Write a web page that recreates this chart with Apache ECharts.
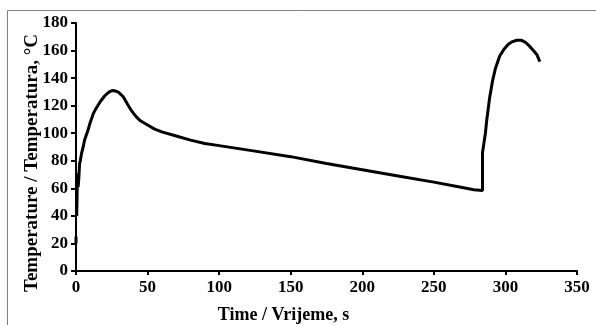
<!DOCTYPE html>
<html>
<head>
<meta charset="utf-8">
<script src="https://cdn.jsdelivr.net/npm/echarts@6/dist/echarts.min.js"></script>
<style>html,body{margin:0;padding:0;background:#fff}#c{width:596px;height:325px}</style>
</head>
<body>
<div id="c"></div>
<script>
const timeS = [0, 0, null, 0.5, 1, 1.5, 2, 2.5, 3, 4, 5, 6, 8, 10, 12, 14, 17, 20, 22, 24, 26, 28, 30, 33, 36, 39, 42, 45, 50, 55, 60, 70, 80, 90, 100, 125, 150, 175, 200, 225, 250, 268, 278, 284, 284, 286, 287, 289, 291, 293, 296, 299, 302, 305, 308, 311, 314, 317, 320, 322, 324];
const tempC = [20, 25, null, 40, 71, 61, 68, 78, 80, 86, 90, 95, 101, 108, 114, 118, 123, 127, 129, 130.5, 131, 130.5, 129.5, 126.5, 121, 116, 112, 109, 106, 103, 101, 98, 95, 92.5, 91, 87, 83, 78, 73.5, 69, 64.5, 61, 59, 58.5, 86, 100, 110, 126, 138, 147, 156, 161, 164.5, 166.5, 167.5, 167.5, 166, 163, 159.5, 157, 152];
const xTitle = 'Time / Vrijeme, s';
const yTitle = 'Temperature / Temperatura, °C';

const seriesData = timeS.map((t, i) => (t === null ? '-' : [t, tempC[i]]));
const font = 'Liberation Serif';
const chart = echarts.init(document.getElementById('c'), null, {renderer: 'canvas'});
chart.setOption({
  animation: false,
  backgroundColor: '#fff',
  graphic: [{
    type: 'rect', silent: true,
    shape: {x: 7.5, y: 10.5, width: 640, height: 360},
    style: {fill: 'none', stroke: '#808080', lineWidth: 1}
  }],
  grid: {left: 76, right: 19, top: 23, bottom: 54, containLabel: false, outerBoundsMode: 'none'},
  xAxis: {
    type: 'value', min: 0, max: 350, interval: 50,
    name: xTitle, nameLocation: 'middle', nameGap: 35, nameMoveOverlap: false,
    nameTextStyle: {fontFamily: font, fontWeight: 'bold', fontSize: 18, color: '#000', padding: [0, 86, 0, 0]},
    axisLine: {lineStyle: {color: '#000', width: 2}},
    axisTick: {show: true, length: 4, lineStyle: {color: '#000', width: 2}},
    axisLabel: {fontFamily: font, fontWeight: 'bold', fontSize: 17, color: '#000', margin: 8},
    splitLine: {show: false}
  },
  yAxis: {
    type: 'value', min: 0, max: 180, interval: 20,
    name: yTitle, nameLocation: 'middle', nameGap: 34, nameMoveOverlap: false,
    nameTextStyle: {fontFamily: font, fontWeight: 'bold', fontSize: 19, color: '#000', padding: [0, 32, 0, 0]},
    axisLine: {lineStyle: {color: '#000', width: 2}},
    axisTick: {show: true, length: 5, lineStyle: {color: '#000', width: 2}},
    axisLabel: {fontFamily: font, fontWeight: 'bold', fontSize: 17, color: '#000', margin: 8},
    splitLine: {show: false}
  },
  series: [{
    type: 'line', data: seriesData, showSymbol: false, connectNulls: false,
    lineStyle: {color: '#000', width: 3}
  }]
});
</script>
</body>
</html>
